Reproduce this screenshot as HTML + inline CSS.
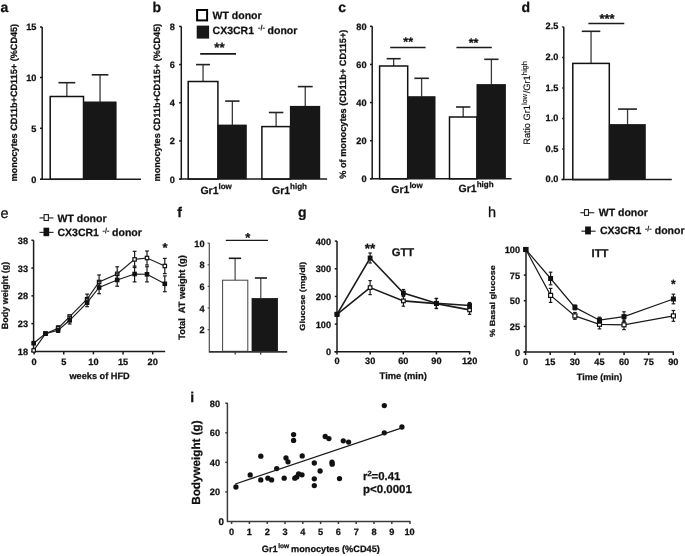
<!DOCTYPE html>
<html><head><meta charset="utf-8"><style>
html,body{margin:0;padding:0;background:#fff;}
body{width:685px;height:556px;overflow:hidden;}
svg{display:block;will-change:transform;font-family:"Liberation Sans", sans-serif;}
text{fill:#111;stroke:#111;stroke-width:0.25px;text-rendering:geometricPrecision;}
</style></head><body>
<svg width="685" height="556" viewBox="0 0 685 556" font-family="&apos;Liberation Sans&apos;, sans-serif">
<rect width="685" height="556" fill="#fff"/>
<text x="0.60" y="12.20" font-size="14" text-anchor="start" font-weight="bold" >a</text>
<line x1="42.20" y1="27.00" x2="42.20" y2="179.30" stroke="#1a1a1a" stroke-width="1.5"/>
<line x1="40.00" y1="179.30" x2="42.20" y2="179.30" stroke="#1a1a1a" stroke-width="1.5"/>
<text x="36.40" y="182.72" font-size="9.2" text-anchor="end" font-weight="bold" >0</text>
<line x1="40.00" y1="128.30" x2="42.20" y2="128.30" stroke="#1a1a1a" stroke-width="1.5"/>
<text x="36.40" y="131.72" font-size="9.2" text-anchor="end" font-weight="bold" >5</text>
<line x1="40.00" y1="77.50" x2="42.20" y2="77.50" stroke="#1a1a1a" stroke-width="1.5"/>
<text x="36.40" y="80.92" font-size="9.2" text-anchor="end" font-weight="bold" >10</text>
<line x1="40.00" y1="27.00" x2="42.20" y2="27.00" stroke="#1a1a1a" stroke-width="1.5"/>
<text x="36.40" y="30.42" font-size="9.2" text-anchor="end" font-weight="bold" >15</text>
<line x1="66.85" y1="96.50" x2="66.85" y2="82.70" stroke="#3a3a3a" stroke-width="1.3"/>
<line x1="58.45" y1="82.70" x2="75.25" y2="82.70" stroke="#222" stroke-width="1.6"/>
<rect x="50.20" y="96.50" width="33.30" height="82.80" fill="#fff" stroke="#111" stroke-width="1.5"/>
<line x1="100.05" y1="101.90" x2="100.05" y2="74.80" stroke="#3a3a3a" stroke-width="1.3"/>
<line x1="91.70" y1="74.80" x2="108.40" y2="74.80" stroke="#222" stroke-width="1.6"/>
<rect x="83.10" y="101.50" width="33.50" height="77.80" fill="#171717"/>
<line x1="40.50" y1="179.30" x2="141.00" y2="179.30" stroke="#1a1a1a" stroke-width="1.5"/>
<text x="0" y="0" font-size="9.15" text-anchor="middle" font-weight="bold" transform="translate(17.09,102.70) rotate(-90)" >monocytes CD11b+CD115+ (%CD45)</text>
<text x="152.40" y="12.00" font-size="14" text-anchor="start" font-weight="bold" >b</text>
<line x1="181.30" y1="26.40" x2="181.30" y2="179.10" stroke="#1a1a1a" stroke-width="1.5"/>
<line x1="179.10" y1="179.10" x2="181.30" y2="179.10" stroke="#1a1a1a" stroke-width="1.5"/>
<text x="174.80" y="182.52" font-size="9.2" text-anchor="end" font-weight="bold" >0</text>
<line x1="179.10" y1="140.93" x2="181.30" y2="140.93" stroke="#1a1a1a" stroke-width="1.5"/>
<text x="174.80" y="144.34" font-size="9.2" text-anchor="end" font-weight="bold" >2</text>
<line x1="179.10" y1="102.75" x2="181.30" y2="102.75" stroke="#1a1a1a" stroke-width="1.5"/>
<text x="174.80" y="106.17" font-size="9.2" text-anchor="end" font-weight="bold" >4</text>
<line x1="179.10" y1="64.58" x2="181.30" y2="64.58" stroke="#1a1a1a" stroke-width="1.5"/>
<text x="174.80" y="68.00" font-size="9.2" text-anchor="end" font-weight="bold" >6</text>
<line x1="179.10" y1="26.40" x2="181.30" y2="26.40" stroke="#1a1a1a" stroke-width="1.5"/>
<text x="174.80" y="29.82" font-size="9.2" text-anchor="end" font-weight="bold" >8</text>
<line x1="203.05" y1="81.50" x2="203.05" y2="64.60" stroke="#3a3a3a" stroke-width="1.3"/>
<line x1="196.05" y1="64.60" x2="210.05" y2="64.60" stroke="#222" stroke-width="1.6"/>
<rect x="188.20" y="81.50" width="29.70" height="97.60" fill="#fff" stroke="#111" stroke-width="1.5"/>
<line x1="232.35" y1="125.00" x2="232.35" y2="101.10" stroke="#3a3a3a" stroke-width="1.3"/>
<line x1="225.15" y1="101.10" x2="239.55" y2="101.10" stroke="#222" stroke-width="1.6"/>
<rect x="217.50" y="124.60" width="29.30" height="54.50" fill="#171717"/>
<line x1="276.10" y1="126.60" x2="276.10" y2="112.50" stroke="#3a3a3a" stroke-width="1.3"/>
<line x1="268.85" y1="112.50" x2="283.35" y2="112.50" stroke="#222" stroke-width="1.6"/>
<rect x="261.90" y="126.60" width="28.40" height="52.50" fill="#fff" stroke="#111" stroke-width="1.5"/>
<line x1="305.25" y1="106.30" x2="305.25" y2="86.60" stroke="#3a3a3a" stroke-width="1.3"/>
<line x1="297.80" y1="86.60" x2="312.70" y2="86.60" stroke="#222" stroke-width="1.6"/>
<rect x="289.90" y="105.90" width="30.30" height="73.20" fill="#171717"/>
<line x1="179.50" y1="179.10" x2="327.10" y2="179.10" stroke="#1a1a1a" stroke-width="1.5"/>
<line x1="200.20" y1="53.90" x2="236.00" y2="53.90" stroke="#1a1a1a" stroke-width="1.7"/>
<text x="219.40" y="52.20" font-size="13.3" text-anchor="middle" font-weight="bold" >**</text>
<rect x="197.10" y="10.00" width="10.00" height="10.40" fill="#fff" stroke="#000" stroke-width="2"/>
<rect x="196.70" y="25.60" width="12.40" height="13.00" fill="#171717" stroke="#000" stroke-width="0"/>
<text x="212.60" y="19.00" font-size="10.5" text-anchor="start" font-weight="bold" >WT donor</text>
<text x="212.60" y="33.80" font-size="10.5" text-anchor="start" font-weight="bold" >CX3CR1</text>
<text x="258.00" y="30.40" font-size="7.2" text-anchor="start" font-weight="bold" style="stroke-width:0.15px">-/-</text>
<text x="267.60" y="33.80" font-size="10.5" text-anchor="start" font-weight="bold" >donor</text>
<text x="200.40" y="193.60" font-size="10.5" text-anchor="start" font-weight="bold" >Gr1<tspan font-size="8" dy="-5">low</tspan></text>
<text x="272.00" y="193.60" font-size="10.5" text-anchor="start" font-weight="bold" >Gr1<tspan font-size="8" dy="-5">high</tspan></text>
<text x="0" y="0" font-size="9.15" text-anchor="middle" font-weight="bold" transform="translate(159.79,102.60) rotate(-90)" >monocytes CD11b+CD115+ (%CD45)</text>
<text x="338.30" y="12.10" font-size="14" text-anchor="start" font-weight="bold" >c</text>
<line x1="372.20" y1="26.30" x2="372.20" y2="178.80" stroke="#1a1a1a" stroke-width="1.5"/>
<line x1="370.00" y1="178.80" x2="372.20" y2="178.80" stroke="#1a1a1a" stroke-width="1.5"/>
<text x="366.50" y="182.22" font-size="9.2" text-anchor="end" font-weight="bold" >0</text>
<line x1="370.00" y1="140.68" x2="372.20" y2="140.68" stroke="#1a1a1a" stroke-width="1.5"/>
<text x="366.50" y="144.09" font-size="9.2" text-anchor="end" font-weight="bold" >20</text>
<line x1="370.00" y1="102.55" x2="372.20" y2="102.55" stroke="#1a1a1a" stroke-width="1.5"/>
<text x="366.50" y="105.97" font-size="9.2" text-anchor="end" font-weight="bold" >40</text>
<line x1="370.00" y1="64.43" x2="372.20" y2="64.43" stroke="#1a1a1a" stroke-width="1.5"/>
<text x="366.50" y="67.85" font-size="9.2" text-anchor="end" font-weight="bold" >60</text>
<line x1="370.00" y1="26.30" x2="372.20" y2="26.30" stroke="#1a1a1a" stroke-width="1.5"/>
<text x="366.50" y="29.72" font-size="9.2" text-anchor="end" font-weight="bold" >80</text>
<line x1="393.65" y1="66.00" x2="393.65" y2="58.70" stroke="#3a3a3a" stroke-width="1.3"/>
<line x1="386.65" y1="58.70" x2="400.65" y2="58.70" stroke="#222" stroke-width="1.6"/>
<rect x="379.60" y="66.00" width="28.10" height="112.80" fill="#fff" stroke="#111" stroke-width="1.5"/>
<line x1="421.60" y1="96.60" x2="421.60" y2="78.30" stroke="#3a3a3a" stroke-width="1.3"/>
<line x1="414.35" y1="78.30" x2="428.85" y2="78.30" stroke="#222" stroke-width="1.6"/>
<rect x="407.30" y="96.20" width="28.20" height="82.60" fill="#171717"/>
<line x1="463.20" y1="117.00" x2="463.20" y2="107.00" stroke="#3a3a3a" stroke-width="1.3"/>
<line x1="456.05" y1="107.00" x2="470.35" y2="107.00" stroke="#222" stroke-width="1.6"/>
<rect x="449.50" y="117.00" width="27.40" height="61.80" fill="#fff" stroke="#111" stroke-width="1.5"/>
<line x1="491.40" y1="84.50" x2="491.40" y2="59.30" stroke="#3a3a3a" stroke-width="1.3"/>
<line x1="484.25" y1="59.30" x2="498.55" y2="59.30" stroke="#222" stroke-width="1.6"/>
<rect x="476.50" y="84.10" width="29.40" height="94.70" fill="#171717"/>
<line x1="370.50" y1="178.80" x2="511.60" y2="178.80" stroke="#1a1a1a" stroke-width="1.5"/>
<line x1="390.20" y1="47.50" x2="425.60" y2="47.50" stroke="#1a1a1a" stroke-width="1.5"/>
<line x1="456.40" y1="47.50" x2="491.80" y2="47.50" stroke="#1a1a1a" stroke-width="1.5"/>
<text x="408.20" y="46.00" font-size="12.5" text-anchor="middle" font-weight="bold" >**</text>
<text x="473.60" y="46.90" font-size="12.5" text-anchor="middle" font-weight="bold" >**</text>
<text x="391.30" y="192.50" font-size="10.5" text-anchor="start" font-weight="bold" >Gr1<tspan font-size="8" dy="-5">low</tspan></text>
<text x="458.60" y="192.30" font-size="10.5" text-anchor="start" font-weight="bold" >Gr1<tspan font-size="8" dy="-5">high</tspan></text>
<text x="0" y="0" font-size="9.2" text-anchor="middle" font-weight="bold" transform="translate(346.11,104.20) rotate(-90)" >% of monocytes (CD11b+ CD115+)</text>
<text x="521.40" y="12.00" font-size="14" text-anchor="start" font-weight="bold" >d</text>
<line x1="563.80" y1="26.90" x2="563.80" y2="179.60" stroke="#1a1a1a" stroke-width="1.5"/>
<line x1="562.20" y1="179.60" x2="563.80" y2="179.60" stroke="#1a1a1a" stroke-width="1.5"/>
<text x="558.30" y="182.19" font-size="9.2" text-anchor="end" font-weight="bold" >0.0</text>
<line x1="562.20" y1="149.06" x2="563.80" y2="149.06" stroke="#1a1a1a" stroke-width="1.5"/>
<text x="558.30" y="151.65" font-size="9.2" text-anchor="end" font-weight="bold" >0.5</text>
<line x1="562.20" y1="118.52" x2="563.80" y2="118.52" stroke="#1a1a1a" stroke-width="1.5"/>
<text x="558.30" y="121.11" font-size="9.2" text-anchor="end" font-weight="bold" >1.0</text>
<line x1="562.20" y1="87.98" x2="563.80" y2="87.98" stroke="#1a1a1a" stroke-width="1.5"/>
<text x="558.30" y="90.57" font-size="9.2" text-anchor="end" font-weight="bold" >1.5</text>
<line x1="562.20" y1="57.44" x2="563.80" y2="57.44" stroke="#1a1a1a" stroke-width="1.5"/>
<text x="558.30" y="60.03" font-size="9.2" text-anchor="end" font-weight="bold" >2.0</text>
<line x1="562.20" y1="26.90" x2="563.80" y2="26.90" stroke="#1a1a1a" stroke-width="1.5"/>
<text x="558.30" y="29.49" font-size="9.2" text-anchor="end" font-weight="bold" >2.5</text>
<line x1="591.05" y1="63.40" x2="591.05" y2="31.30" stroke="#3a3a3a" stroke-width="1.3"/>
<line x1="581.80" y1="31.30" x2="600.30" y2="31.30" stroke="#222" stroke-width="1.6"/>
<rect x="572.80" y="63.40" width="36.50" height="116.20" fill="#fff" stroke="#111" stroke-width="1.5"/>
<line x1="627.55" y1="124.50" x2="627.55" y2="109.10" stroke="#3a3a3a" stroke-width="1.3"/>
<line x1="618.10" y1="109.10" x2="637.00" y2="109.10" stroke="#222" stroke-width="1.6"/>
<rect x="608.90" y="124.10" width="36.90" height="55.50" fill="#171717"/>
<line x1="561.50" y1="179.60" x2="671.80" y2="179.60" stroke="#1a1a1a" stroke-width="1.5"/>
<line x1="588.40" y1="23.40" x2="624.30" y2="23.40" stroke="#1a1a1a" stroke-width="1.5"/>
<text x="607.10" y="23.40" font-size="13" text-anchor="middle" font-weight="bold" >***</text>
<text x="0" y="0" font-size="9.3" font-weight="normal" transform="translate(530.2,144.8) rotate(-90)" style="stroke-width:0.15px">Ratio Gr1<tspan font-size="7.4" dy="-3.4">low</tspan><tspan dy="3.4" dx="0.6">/Gr1</tspan><tspan font-size="7.4" dy="-3.4">high</tspan></text>
<text x="0.60" y="217.90" font-size="14.5" text-anchor="start" font-weight="normal" >e</text>
<line x1="33.60" y1="240.30" x2="33.60" y2="351.40" stroke="#1a1a1a" stroke-width="1.5"/>
<line x1="31.40" y1="351.40" x2="33.60" y2="351.40" stroke="#1a1a1a" stroke-width="1.5"/>
<text x="28.00" y="354.82" font-size="9.2" text-anchor="end" font-weight="bold" >18</text>
<line x1="31.40" y1="323.62" x2="33.60" y2="323.62" stroke="#1a1a1a" stroke-width="1.5"/>
<text x="28.00" y="327.05" font-size="9.2" text-anchor="end" font-weight="bold" >23</text>
<line x1="31.40" y1="295.85" x2="33.60" y2="295.85" stroke="#1a1a1a" stroke-width="1.5"/>
<text x="28.00" y="299.27" font-size="9.2" text-anchor="end" font-weight="bold" >28</text>
<line x1="31.40" y1="268.07" x2="33.60" y2="268.07" stroke="#1a1a1a" stroke-width="1.5"/>
<text x="28.00" y="271.50" font-size="9.2" text-anchor="end" font-weight="bold" >33</text>
<line x1="31.40" y1="240.30" x2="33.60" y2="240.30" stroke="#1a1a1a" stroke-width="1.5"/>
<text x="28.00" y="243.72" font-size="9.2" text-anchor="end" font-weight="bold" >38</text>
<line x1="33.60" y1="351.40" x2="165.20" y2="351.40" stroke="#1a1a1a" stroke-width="1.5"/>
<line x1="34.10" y1="351.40" x2="34.10" y2="354.40" stroke="#1a1a1a" stroke-width="1.5"/>
<text x="34.10" y="365.30" font-size="9.2" text-anchor="middle" font-weight="bold" >0</text>
<line x1="63.75" y1="351.40" x2="63.75" y2="354.40" stroke="#1a1a1a" stroke-width="1.5"/>
<text x="63.75" y="365.30" font-size="9.2" text-anchor="middle" font-weight="bold" >5</text>
<line x1="93.40" y1="351.40" x2="93.40" y2="354.40" stroke="#1a1a1a" stroke-width="1.5"/>
<text x="93.40" y="365.30" font-size="9.2" text-anchor="middle" font-weight="bold" >10</text>
<line x1="123.05" y1="351.40" x2="123.05" y2="354.40" stroke="#1a1a1a" stroke-width="1.5"/>
<text x="123.05" y="365.30" font-size="9.2" text-anchor="middle" font-weight="bold" >15</text>
<line x1="152.70" y1="351.40" x2="152.70" y2="354.40" stroke="#1a1a1a" stroke-width="1.5"/>
<text x="152.70" y="365.30" font-size="9.2" text-anchor="middle" font-weight="bold" >20</text>
<polyline points="33.70,350.40 45.50,333.60 58.10,328.20 69.70,316.70 87.10,299.20 99.10,282.00 117.20,273.90 134.60,259.40 147.00,258.00 164.80,266.00" fill="none" stroke="#1a1a1a" stroke-width="1.15"/>
<line x1="33.70" y1="349.60" x2="33.70" y2="351.20" stroke="#1a1a1a" stroke-width="1.2"/>
<line x1="31.80" y1="349.60" x2="35.60" y2="349.60" stroke="#1a1a1a" stroke-width="1.2"/>
<line x1="31.80" y1="351.20" x2="35.60" y2="351.20" stroke="#1a1a1a" stroke-width="1.2"/>
<line x1="45.50" y1="332.40" x2="45.50" y2="334.80" stroke="#1a1a1a" stroke-width="1.2"/>
<line x1="43.60" y1="332.40" x2="47.40" y2="332.40" stroke="#1a1a1a" stroke-width="1.2"/>
<line x1="43.60" y1="334.80" x2="47.40" y2="334.80" stroke="#1a1a1a" stroke-width="1.2"/>
<line x1="58.10" y1="325.80" x2="58.10" y2="330.60" stroke="#1a1a1a" stroke-width="1.2"/>
<line x1="56.20" y1="325.80" x2="60.00" y2="325.80" stroke="#1a1a1a" stroke-width="1.2"/>
<line x1="56.20" y1="330.60" x2="60.00" y2="330.60" stroke="#1a1a1a" stroke-width="1.2"/>
<line x1="69.70" y1="314.90" x2="69.70" y2="318.50" stroke="#1a1a1a" stroke-width="1.2"/>
<line x1="67.80" y1="314.90" x2="71.60" y2="314.90" stroke="#1a1a1a" stroke-width="1.2"/>
<line x1="67.80" y1="318.50" x2="71.60" y2="318.50" stroke="#1a1a1a" stroke-width="1.2"/>
<line x1="87.10" y1="294.10" x2="87.10" y2="304.30" stroke="#1a1a1a" stroke-width="1.2"/>
<line x1="85.20" y1="294.10" x2="89.00" y2="294.10" stroke="#1a1a1a" stroke-width="1.2"/>
<line x1="85.20" y1="304.30" x2="89.00" y2="304.30" stroke="#1a1a1a" stroke-width="1.2"/>
<line x1="99.10" y1="275.00" x2="99.10" y2="289.00" stroke="#1a1a1a" stroke-width="1.2"/>
<line x1="97.20" y1="275.00" x2="101.00" y2="275.00" stroke="#1a1a1a" stroke-width="1.2"/>
<line x1="97.20" y1="289.00" x2="101.00" y2="289.00" stroke="#1a1a1a" stroke-width="1.2"/>
<line x1="117.20" y1="266.80" x2="117.20" y2="281.00" stroke="#1a1a1a" stroke-width="1.2"/>
<line x1="115.30" y1="266.80" x2="119.10" y2="266.80" stroke="#1a1a1a" stroke-width="1.2"/>
<line x1="115.30" y1="281.00" x2="119.10" y2="281.00" stroke="#1a1a1a" stroke-width="1.2"/>
<line x1="134.60" y1="251.30" x2="134.60" y2="267.50" stroke="#1a1a1a" stroke-width="1.2"/>
<line x1="132.70" y1="251.30" x2="136.50" y2="251.30" stroke="#1a1a1a" stroke-width="1.2"/>
<line x1="132.70" y1="267.50" x2="136.50" y2="267.50" stroke="#1a1a1a" stroke-width="1.2"/>
<line x1="147.00" y1="251.00" x2="147.00" y2="265.00" stroke="#1a1a1a" stroke-width="1.2"/>
<line x1="145.10" y1="251.00" x2="148.90" y2="251.00" stroke="#1a1a1a" stroke-width="1.2"/>
<line x1="145.10" y1="265.00" x2="148.90" y2="265.00" stroke="#1a1a1a" stroke-width="1.2"/>
<line x1="164.80" y1="258.40" x2="164.80" y2="273.60" stroke="#1a1a1a" stroke-width="1.2"/>
<line x1="162.90" y1="258.40" x2="166.70" y2="258.40" stroke="#1a1a1a" stroke-width="1.2"/>
<line x1="162.90" y1="273.60" x2="166.70" y2="273.60" stroke="#1a1a1a" stroke-width="1.2"/>
<rect x="32.00" y="348.70" width="3.3999999999999995" height="3.3999999999999995" fill="#fff" stroke="#111" stroke-width="1.2"/>
<rect x="43.80" y="331.90" width="3.3999999999999995" height="3.3999999999999995" fill="#fff" stroke="#111" stroke-width="1.2"/>
<rect x="56.40" y="326.50" width="3.3999999999999995" height="3.3999999999999995" fill="#fff" stroke="#111" stroke-width="1.2"/>
<rect x="68.00" y="315.00" width="3.3999999999999995" height="3.3999999999999995" fill="#fff" stroke="#111" stroke-width="1.2"/>
<rect x="85.40" y="297.50" width="3.3999999999999995" height="3.3999999999999995" fill="#fff" stroke="#111" stroke-width="1.2"/>
<rect x="97.40" y="280.30" width="3.3999999999999995" height="3.3999999999999995" fill="#fff" stroke="#111" stroke-width="1.2"/>
<rect x="115.50" y="272.20" width="3.3999999999999995" height="3.3999999999999995" fill="#fff" stroke="#111" stroke-width="1.2"/>
<rect x="132.90" y="257.70" width="3.3999999999999995" height="3.3999999999999995" fill="#fff" stroke="#111" stroke-width="1.2"/>
<rect x="145.30" y="256.30" width="3.3999999999999995" height="3.3999999999999995" fill="#fff" stroke="#111" stroke-width="1.2"/>
<rect x="163.10" y="264.30" width="3.3999999999999995" height="3.3999999999999995" fill="#fff" stroke="#111" stroke-width="1.2"/>
<polyline points="33.70,343.20 45.50,333.60 58.10,330.30 69.70,320.30 87.10,302.60 99.10,287.50 117.20,280.00 134.60,274.00 147.00,274.30 164.80,283.80" fill="none" stroke="#1a1a1a" stroke-width="1.15"/>
<line x1="33.70" y1="342.40" x2="33.70" y2="344.00" stroke="#1a1a1a" stroke-width="1.2"/>
<line x1="31.80" y1="342.40" x2="35.60" y2="342.40" stroke="#1a1a1a" stroke-width="1.2"/>
<line x1="31.80" y1="344.00" x2="35.60" y2="344.00" stroke="#1a1a1a" stroke-width="1.2"/>
<line x1="45.50" y1="332.40" x2="45.50" y2="334.80" stroke="#1a1a1a" stroke-width="1.2"/>
<line x1="43.60" y1="332.40" x2="47.40" y2="332.40" stroke="#1a1a1a" stroke-width="1.2"/>
<line x1="43.60" y1="334.80" x2="47.40" y2="334.80" stroke="#1a1a1a" stroke-width="1.2"/>
<line x1="58.10" y1="328.20" x2="58.10" y2="332.40" stroke="#1a1a1a" stroke-width="1.2"/>
<line x1="56.20" y1="328.20" x2="60.00" y2="328.20" stroke="#1a1a1a" stroke-width="1.2"/>
<line x1="56.20" y1="332.40" x2="60.00" y2="332.40" stroke="#1a1a1a" stroke-width="1.2"/>
<line x1="69.70" y1="316.60" x2="69.70" y2="324.00" stroke="#1a1a1a" stroke-width="1.2"/>
<line x1="67.80" y1="316.60" x2="71.60" y2="316.60" stroke="#1a1a1a" stroke-width="1.2"/>
<line x1="67.80" y1="324.00" x2="71.60" y2="324.00" stroke="#1a1a1a" stroke-width="1.2"/>
<line x1="87.10" y1="298.50" x2="87.10" y2="306.70" stroke="#1a1a1a" stroke-width="1.2"/>
<line x1="85.20" y1="298.50" x2="89.00" y2="298.50" stroke="#1a1a1a" stroke-width="1.2"/>
<line x1="85.20" y1="306.70" x2="89.00" y2="306.70" stroke="#1a1a1a" stroke-width="1.2"/>
<line x1="99.10" y1="281.30" x2="99.10" y2="293.70" stroke="#1a1a1a" stroke-width="1.2"/>
<line x1="97.20" y1="281.30" x2="101.00" y2="281.30" stroke="#1a1a1a" stroke-width="1.2"/>
<line x1="97.20" y1="293.70" x2="101.00" y2="293.70" stroke="#1a1a1a" stroke-width="1.2"/>
<line x1="117.20" y1="273.80" x2="117.20" y2="286.20" stroke="#1a1a1a" stroke-width="1.2"/>
<line x1="115.30" y1="273.80" x2="119.10" y2="273.80" stroke="#1a1a1a" stroke-width="1.2"/>
<line x1="115.30" y1="286.20" x2="119.10" y2="286.20" stroke="#1a1a1a" stroke-width="1.2"/>
<line x1="134.60" y1="266.10" x2="134.60" y2="281.90" stroke="#1a1a1a" stroke-width="1.2"/>
<line x1="132.70" y1="266.10" x2="136.50" y2="266.10" stroke="#1a1a1a" stroke-width="1.2"/>
<line x1="132.70" y1="281.90" x2="136.50" y2="281.90" stroke="#1a1a1a" stroke-width="1.2"/>
<line x1="147.00" y1="266.70" x2="147.00" y2="281.90" stroke="#1a1a1a" stroke-width="1.2"/>
<line x1="145.10" y1="266.70" x2="148.90" y2="266.70" stroke="#1a1a1a" stroke-width="1.2"/>
<line x1="145.10" y1="281.90" x2="148.90" y2="281.90" stroke="#1a1a1a" stroke-width="1.2"/>
<line x1="164.80" y1="275.90" x2="164.80" y2="291.70" stroke="#1a1a1a" stroke-width="1.2"/>
<line x1="162.90" y1="275.90" x2="166.70" y2="275.90" stroke="#1a1a1a" stroke-width="1.2"/>
<line x1="162.90" y1="291.70" x2="166.70" y2="291.70" stroke="#1a1a1a" stroke-width="1.2"/>
<rect x="31.40" y="340.90" width="4.6" height="4.6" fill="#111"/>
<rect x="43.20" y="331.30" width="4.6" height="4.6" fill="#111"/>
<rect x="55.80" y="328.00" width="4.6" height="4.6" fill="#111"/>
<rect x="67.40" y="318.00" width="4.6" height="4.6" fill="#111"/>
<rect x="84.80" y="300.30" width="4.6" height="4.6" fill="#111"/>
<rect x="96.80" y="285.20" width="4.6" height="4.6" fill="#111"/>
<rect x="114.90" y="277.70" width="4.6" height="4.6" fill="#111"/>
<rect x="132.30" y="271.70" width="4.6" height="4.6" fill="#111"/>
<rect x="144.70" y="272.00" width="4.6" height="4.6" fill="#111"/>
<rect x="162.50" y="281.50" width="4.6" height="4.6" fill="#111"/>
<text x="165.10" y="252.20" font-size="13" text-anchor="middle" font-weight="bold" >*</text>
<line x1="39.50" y1="217.90" x2="53.50" y2="217.90" stroke="#333" stroke-width="1.2"/>
<rect x="44.1" y="214.6" width="4.3" height="5.9" fill="#fff" stroke="#222" stroke-width="1.1"/>
<text x="57.50" y="222.00" font-size="10.5" text-anchor="start" font-weight="bold" >WT donor</text>
<line x1="39.50" y1="232.40" x2="53.50" y2="232.40" stroke="#333" stroke-width="1.2"/>
<rect x="43.5" y="227.7" width="5.7" height="8.5" fill="#111"/>
<text x="57.50" y="236.40" font-size="10.5" text-anchor="start" font-weight="bold" >CX3CR1</text>
<text x="102.60" y="233.00" font-size="7.2" text-anchor="start" font-weight="bold" style="stroke-width:0.15px">-/-</text>
<text x="112.10" y="236.40" font-size="10.5" text-anchor="start" font-weight="bold" >donor</text>
<text x="99.60" y="379.00" font-size="9.2" text-anchor="middle" font-weight="bold" >weeks of HFD</text>
<text x="0" y="0" font-size="9.0" text-anchor="middle" font-weight="bold" transform="translate(8.04,295.40) rotate(-90)" >Body weight (g)</text>
<text x="177.30" y="217.00" font-size="14" text-anchor="start" font-weight="bold" >f</text>
<line x1="209.30" y1="243.10" x2="209.30" y2="351.30" stroke="#505050" stroke-width="1.2"/>
<line x1="207.60" y1="329.66" x2="209.30" y2="329.66" stroke="#505050" stroke-width="1.2"/>
<text x="204.60" y="333.36" font-size="9.2" text-anchor="end" font-weight="bold" >2</text>
<line x1="207.60" y1="308.02" x2="209.30" y2="308.02" stroke="#505050" stroke-width="1.2"/>
<text x="204.60" y="311.72" font-size="9.2" text-anchor="end" font-weight="bold" >4</text>
<line x1="207.60" y1="286.38" x2="209.30" y2="286.38" stroke="#505050" stroke-width="1.2"/>
<text x="204.60" y="290.08" font-size="9.2" text-anchor="end" font-weight="bold" >6</text>
<line x1="207.60" y1="264.74" x2="209.30" y2="264.74" stroke="#505050" stroke-width="1.2"/>
<text x="204.60" y="268.44" font-size="9.2" text-anchor="end" font-weight="bold" >8</text>
<line x1="207.60" y1="243.10" x2="209.30" y2="243.10" stroke="#505050" stroke-width="1.2"/>
<text x="204.60" y="246.80" font-size="9.2" text-anchor="end" font-weight="bold" >10</text>
<rect x="222.60" y="280.20" width="25.20" height="71.10" fill="#fff" stroke="#444" stroke-width="1.0"/>
<rect x="252.00" y="298.50" width="25.60" height="52.80" fill="#171717" stroke="#171717" stroke-width="0.8"/>
<line x1="208.80" y1="351.90" x2="287.20" y2="351.90" stroke="#333" stroke-width="1.9"/>
<line x1="235.20" y1="351.90" x2="235.20" y2="354.60" stroke="#333" stroke-width="1.2"/>
<line x1="260.70" y1="351.90" x2="260.70" y2="354.60" stroke="#333" stroke-width="1.2"/>
<line x1="235.10" y1="280.20" x2="235.10" y2="258.30" stroke="#333" stroke-width="1.1"/>
<line x1="228.80" y1="258.30" x2="241.10" y2="258.30" stroke="#1a1a1a" stroke-width="1.6"/>
<line x1="260.80" y1="298.50" x2="260.80" y2="278.00" stroke="#333" stroke-width="1.1"/>
<line x1="254.90" y1="278.00" x2="267.00" y2="278.00" stroke="#1a1a1a" stroke-width="1.6"/>
<line x1="225.80" y1="240.40" x2="268.00" y2="240.40" stroke="#1a1a1a" stroke-width="1.1"/>
<text x="247.80" y="242.00" font-size="13" text-anchor="middle" font-weight="bold" >*</text>
<text x="0" y="0" font-size="9.3" text-anchor="middle" font-weight="bold" transform="translate(185.15,297.40) rotate(-90)" >Total&#160; AT weight (g)</text>
<text x="297.90" y="216.90" font-size="14" text-anchor="start" font-weight="bold" >g</text>
<line x1="337.00" y1="241.10" x2="337.00" y2="351.80" stroke="#1a1a1a" stroke-width="1.5"/>
<line x1="334.80" y1="351.80" x2="337.00" y2="351.80" stroke="#1a1a1a" stroke-width="1.5"/>
<text x="331.00" y="355.22" font-size="9.2" text-anchor="end" font-weight="bold" >0</text>
<line x1="334.80" y1="324.12" x2="337.00" y2="324.12" stroke="#1a1a1a" stroke-width="1.5"/>
<text x="331.00" y="327.55" font-size="9.2" text-anchor="end" font-weight="bold" >100</text>
<line x1="334.80" y1="296.45" x2="337.00" y2="296.45" stroke="#1a1a1a" stroke-width="1.5"/>
<text x="331.00" y="299.87" font-size="9.2" text-anchor="end" font-weight="bold" >200</text>
<line x1="334.80" y1="268.77" x2="337.00" y2="268.77" stroke="#1a1a1a" stroke-width="1.5"/>
<text x="331.00" y="272.19" font-size="9.2" text-anchor="end" font-weight="bold" >300</text>
<line x1="334.80" y1="241.10" x2="337.00" y2="241.10" stroke="#1a1a1a" stroke-width="1.5"/>
<text x="331.00" y="244.52" font-size="9.2" text-anchor="end" font-weight="bold" >400</text>
<line x1="334.50" y1="351.80" x2="470.30" y2="351.80" stroke="#1a1a1a" stroke-width="1.5"/>
<line x1="337.00" y1="351.80" x2="337.00" y2="354.40" stroke="#1a1a1a" stroke-width="1.5"/>
<text x="337.00" y="363.50" font-size="9.2" text-anchor="middle" font-weight="bold" >0</text>
<line x1="370.15" y1="351.80" x2="370.15" y2="354.40" stroke="#1a1a1a" stroke-width="1.5"/>
<text x="370.15" y="363.50" font-size="9.2" text-anchor="middle" font-weight="bold" >30</text>
<line x1="403.30" y1="351.80" x2="403.30" y2="354.40" stroke="#1a1a1a" stroke-width="1.5"/>
<text x="403.30" y="363.50" font-size="9.2" text-anchor="middle" font-weight="bold" >60</text>
<line x1="436.45" y1="351.80" x2="436.45" y2="354.40" stroke="#1a1a1a" stroke-width="1.5"/>
<text x="436.45" y="363.50" font-size="9.2" text-anchor="middle" font-weight="bold" >90</text>
<line x1="469.60" y1="351.80" x2="469.60" y2="354.40" stroke="#1a1a1a" stroke-width="1.5"/>
<text x="469.60" y="363.50" font-size="9.2" text-anchor="middle" font-weight="bold" >120</text>
<polyline points="337.00,314.30 370.10,287.60 403.40,300.90 436.40,303.60 469.60,309.90" fill="none" stroke="#1a1a1a" stroke-width="1.6"/>
<line x1="337.00" y1="312.80" x2="337.00" y2="315.80" stroke="#1a1a1a" stroke-width="1.2"/>
<line x1="335.30" y1="312.80" x2="338.70" y2="312.80" stroke="#1a1a1a" stroke-width="1.2"/>
<line x1="335.30" y1="315.80" x2="338.70" y2="315.80" stroke="#1a1a1a" stroke-width="1.2"/>
<line x1="370.10" y1="280.60" x2="370.10" y2="294.60" stroke="#1a1a1a" stroke-width="1.2"/>
<line x1="368.40" y1="280.60" x2="371.80" y2="280.60" stroke="#1a1a1a" stroke-width="1.2"/>
<line x1="368.40" y1="294.60" x2="371.80" y2="294.60" stroke="#1a1a1a" stroke-width="1.2"/>
<line x1="403.40" y1="295.60" x2="403.40" y2="306.20" stroke="#1a1a1a" stroke-width="1.2"/>
<line x1="401.70" y1="295.60" x2="405.10" y2="295.60" stroke="#1a1a1a" stroke-width="1.2"/>
<line x1="401.70" y1="306.20" x2="405.10" y2="306.20" stroke="#1a1a1a" stroke-width="1.2"/>
<line x1="436.40" y1="298.60" x2="436.40" y2="308.60" stroke="#1a1a1a" stroke-width="1.2"/>
<line x1="434.70" y1="298.60" x2="438.10" y2="298.60" stroke="#1a1a1a" stroke-width="1.2"/>
<line x1="434.70" y1="308.60" x2="438.10" y2="308.60" stroke="#1a1a1a" stroke-width="1.2"/>
<line x1="469.60" y1="305.50" x2="469.60" y2="314.30" stroke="#1a1a1a" stroke-width="1.2"/>
<line x1="467.90" y1="305.50" x2="471.30" y2="305.50" stroke="#1a1a1a" stroke-width="1.2"/>
<line x1="467.90" y1="314.30" x2="471.30" y2="314.30" stroke="#1a1a1a" stroke-width="1.2"/>
<rect x="335.20" y="312.50" width="3.5999999999999996" height="3.5999999999999996" fill="#fff" stroke="#111" stroke-width="1.2"/>
<rect x="368.30" y="285.80" width="3.5999999999999996" height="3.5999999999999996" fill="#fff" stroke="#111" stroke-width="1.2"/>
<rect x="401.60" y="299.10" width="3.5999999999999996" height="3.5999999999999996" fill="#fff" stroke="#111" stroke-width="1.2"/>
<rect x="434.60" y="301.80" width="3.5999999999999996" height="3.5999999999999996" fill="#fff" stroke="#111" stroke-width="1.2"/>
<rect x="467.80" y="308.10" width="3.5999999999999996" height="3.5999999999999996" fill="#fff" stroke="#111" stroke-width="1.2"/>
<polyline points="337.00,314.30 370.10,258.00 403.40,293.00 436.40,303.30 469.60,305.50" fill="none" stroke="#1a1a1a" stroke-width="1.6"/>
<line x1="337.00" y1="312.80" x2="337.00" y2="315.80" stroke="#1a1a1a" stroke-width="1.2"/>
<line x1="335.30" y1="312.80" x2="338.70" y2="312.80" stroke="#1a1a1a" stroke-width="1.2"/>
<line x1="335.30" y1="315.80" x2="338.70" y2="315.80" stroke="#1a1a1a" stroke-width="1.2"/>
<line x1="370.10" y1="253.00" x2="370.10" y2="263.00" stroke="#1a1a1a" stroke-width="1.2"/>
<line x1="368.40" y1="253.00" x2="371.80" y2="253.00" stroke="#1a1a1a" stroke-width="1.2"/>
<line x1="368.40" y1="263.00" x2="371.80" y2="263.00" stroke="#1a1a1a" stroke-width="1.2"/>
<line x1="403.40" y1="289.50" x2="403.40" y2="296.50" stroke="#1a1a1a" stroke-width="1.2"/>
<line x1="401.70" y1="289.50" x2="405.10" y2="289.50" stroke="#1a1a1a" stroke-width="1.2"/>
<line x1="401.70" y1="296.50" x2="405.10" y2="296.50" stroke="#1a1a1a" stroke-width="1.2"/>
<line x1="436.40" y1="298.30" x2="436.40" y2="308.30" stroke="#1a1a1a" stroke-width="1.2"/>
<line x1="434.70" y1="298.30" x2="438.10" y2="298.30" stroke="#1a1a1a" stroke-width="1.2"/>
<line x1="434.70" y1="308.30" x2="438.10" y2="308.30" stroke="#1a1a1a" stroke-width="1.2"/>
<line x1="469.60" y1="302.50" x2="469.60" y2="308.50" stroke="#1a1a1a" stroke-width="1.2"/>
<line x1="467.90" y1="302.50" x2="471.30" y2="302.50" stroke="#1a1a1a" stroke-width="1.2"/>
<line x1="467.90" y1="308.50" x2="471.30" y2="308.50" stroke="#1a1a1a" stroke-width="1.2"/>
<rect x="334.60" y="311.90" width="4.8" height="4.8" fill="#111"/>
<rect x="367.70" y="255.60" width="4.8" height="4.8" fill="#111"/>
<rect x="401.00" y="290.60" width="4.8" height="4.8" fill="#111"/>
<rect x="434.00" y="300.90" width="4.8" height="4.8" fill="#111"/>
<rect x="467.20" y="303.10" width="4.8" height="4.8" fill="#111"/>
<text x="370.10" y="252.60" font-size="13.5" text-anchor="middle" font-weight="bold" >**</text>
<text x="391.80" y="255.80" font-size="11.2" text-anchor="start" font-weight="bold" >GTT</text>
<text x="403.20" y="379.20" font-size="9.4" text-anchor="middle" font-weight="bold" >Time (min)</text>
<text x="0" y="0" font-size="9.15" text-anchor="middle" font-weight="bold" transform="translate(304.90,296.20) rotate(-90) scale(1,0.82)" >Glucose (mg/dl)</text>
<text x="488.00" y="217.00" font-size="14.5" text-anchor="start" font-weight="normal" >h</text>
<line x1="526.00" y1="249.40" x2="526.00" y2="352.10" stroke="#1a1a1a" stroke-width="1.5"/>
<line x1="523.80" y1="352.10" x2="526.00" y2="352.10" stroke="#1a1a1a" stroke-width="1.5"/>
<text x="520.00" y="355.52" font-size="9.2" text-anchor="end" font-weight="bold" >0</text>
<line x1="523.80" y1="326.43" x2="526.00" y2="326.43" stroke="#1a1a1a" stroke-width="1.5"/>
<text x="520.00" y="329.85" font-size="9.2" text-anchor="end" font-weight="bold" >25</text>
<line x1="523.80" y1="300.75" x2="526.00" y2="300.75" stroke="#1a1a1a" stroke-width="1.5"/>
<text x="520.00" y="304.17" font-size="9.2" text-anchor="end" font-weight="bold" >50</text>
<line x1="523.80" y1="275.08" x2="526.00" y2="275.08" stroke="#1a1a1a" stroke-width="1.5"/>
<text x="520.00" y="278.50" font-size="9.2" text-anchor="end" font-weight="bold" >75</text>
<line x1="523.80" y1="249.40" x2="526.00" y2="249.40" stroke="#1a1a1a" stroke-width="1.5"/>
<text x="520.00" y="252.82" font-size="9.2" text-anchor="end" font-weight="bold" >100</text>
<line x1="523.50" y1="352.10" x2="673.90" y2="352.10" stroke="#1a1a1a" stroke-width="1.5"/>
<line x1="525.60" y1="352.10" x2="525.60" y2="355.10" stroke="#1a1a1a" stroke-width="1.5"/>
<text x="525.60" y="365.30" font-size="9.2" text-anchor="middle" font-weight="bold" >0</text>
<line x1="550.22" y1="352.10" x2="550.22" y2="355.10" stroke="#1a1a1a" stroke-width="1.5"/>
<text x="550.22" y="365.30" font-size="9.2" text-anchor="middle" font-weight="bold" >15</text>
<line x1="574.83" y1="352.10" x2="574.83" y2="355.10" stroke="#1a1a1a" stroke-width="1.5"/>
<text x="574.83" y="365.30" font-size="9.2" text-anchor="middle" font-weight="bold" >30</text>
<line x1="599.45" y1="352.10" x2="599.45" y2="355.10" stroke="#1a1a1a" stroke-width="1.5"/>
<text x="599.45" y="365.30" font-size="9.2" text-anchor="middle" font-weight="bold" >45</text>
<line x1="624.07" y1="352.10" x2="624.07" y2="355.10" stroke="#1a1a1a" stroke-width="1.5"/>
<text x="624.07" y="365.30" font-size="9.2" text-anchor="middle" font-weight="bold" >60</text>
<line x1="648.68" y1="352.10" x2="648.68" y2="355.10" stroke="#1a1a1a" stroke-width="1.5"/>
<text x="648.68" y="365.30" font-size="9.2" text-anchor="middle" font-weight="bold" >75</text>
<line x1="673.30" y1="352.10" x2="673.30" y2="355.10" stroke="#1a1a1a" stroke-width="1.5"/>
<text x="673.30" y="365.30" font-size="9.2" text-anchor="middle" font-weight="bold" >90</text>
<polyline points="525.80,249.50 550.60,295.40 574.90,315.90 599.50,324.30 624.00,324.80 673.40,315.90" fill="none" stroke="#1a1a1a" stroke-width="1.2"/>
<line x1="525.80" y1="248.70" x2="525.80" y2="250.30" stroke="#1a1a1a" stroke-width="1.2"/>
<line x1="524.00" y1="248.70" x2="527.60" y2="248.70" stroke="#1a1a1a" stroke-width="1.2"/>
<line x1="524.00" y1="250.30" x2="527.60" y2="250.30" stroke="#1a1a1a" stroke-width="1.2"/>
<line x1="550.60" y1="288.40" x2="550.60" y2="302.40" stroke="#1a1a1a" stroke-width="1.2"/>
<line x1="548.80" y1="288.40" x2="552.40" y2="288.40" stroke="#1a1a1a" stroke-width="1.2"/>
<line x1="548.80" y1="302.40" x2="552.40" y2="302.40" stroke="#1a1a1a" stroke-width="1.2"/>
<line x1="574.90" y1="312.50" x2="574.90" y2="319.30" stroke="#1a1a1a" stroke-width="1.2"/>
<line x1="573.10" y1="312.50" x2="576.70" y2="312.50" stroke="#1a1a1a" stroke-width="1.2"/>
<line x1="573.10" y1="319.30" x2="576.70" y2="319.30" stroke="#1a1a1a" stroke-width="1.2"/>
<line x1="599.50" y1="319.70" x2="599.50" y2="328.90" stroke="#1a1a1a" stroke-width="1.2"/>
<line x1="597.70" y1="319.70" x2="601.30" y2="319.70" stroke="#1a1a1a" stroke-width="1.2"/>
<line x1="597.70" y1="328.90" x2="601.30" y2="328.90" stroke="#1a1a1a" stroke-width="1.2"/>
<line x1="624.00" y1="320.00" x2="624.00" y2="329.60" stroke="#1a1a1a" stroke-width="1.2"/>
<line x1="622.20" y1="320.00" x2="625.80" y2="320.00" stroke="#1a1a1a" stroke-width="1.2"/>
<line x1="622.20" y1="329.60" x2="625.80" y2="329.60" stroke="#1a1a1a" stroke-width="1.2"/>
<line x1="673.40" y1="310.50" x2="673.40" y2="321.30" stroke="#1a1a1a" stroke-width="1.2"/>
<line x1="671.60" y1="310.50" x2="675.20" y2="310.50" stroke="#1a1a1a" stroke-width="1.2"/>
<line x1="671.60" y1="321.30" x2="675.20" y2="321.30" stroke="#1a1a1a" stroke-width="1.2"/>
<rect x="523.80" y="247.50" width="4.0" height="4.0" fill="#fff" stroke="#111" stroke-width="1.2"/>
<rect x="548.60" y="293.40" width="4.0" height="4.0" fill="#fff" stroke="#111" stroke-width="1.2"/>
<rect x="572.90" y="313.90" width="4.0" height="4.0" fill="#fff" stroke="#111" stroke-width="1.2"/>
<rect x="597.50" y="322.30" width="4.0" height="4.0" fill="#fff" stroke="#111" stroke-width="1.2"/>
<rect x="622.00" y="322.80" width="4.0" height="4.0" fill="#fff" stroke="#111" stroke-width="1.2"/>
<rect x="671.40" y="313.90" width="4.0" height="4.0" fill="#fff" stroke="#111" stroke-width="1.2"/>
<polyline points="525.80,249.50 550.60,278.50 574.90,307.40 599.50,320.20 624.00,316.60 673.40,299.00" fill="none" stroke="#1a1a1a" stroke-width="1.2"/>
<line x1="525.80" y1="248.70" x2="525.80" y2="250.30" stroke="#1a1a1a" stroke-width="1.2"/>
<line x1="524.00" y1="248.70" x2="527.60" y2="248.70" stroke="#1a1a1a" stroke-width="1.2"/>
<line x1="524.00" y1="250.30" x2="527.60" y2="250.30" stroke="#1a1a1a" stroke-width="1.2"/>
<line x1="550.60" y1="272.20" x2="550.60" y2="284.80" stroke="#1a1a1a" stroke-width="1.2"/>
<line x1="548.80" y1="272.20" x2="552.40" y2="272.20" stroke="#1a1a1a" stroke-width="1.2"/>
<line x1="548.80" y1="284.80" x2="552.40" y2="284.80" stroke="#1a1a1a" stroke-width="1.2"/>
<line x1="574.90" y1="305.00" x2="574.90" y2="309.80" stroke="#1a1a1a" stroke-width="1.2"/>
<line x1="573.10" y1="305.00" x2="576.70" y2="305.00" stroke="#1a1a1a" stroke-width="1.2"/>
<line x1="573.10" y1="309.80" x2="576.70" y2="309.80" stroke="#1a1a1a" stroke-width="1.2"/>
<line x1="599.50" y1="317.20" x2="599.50" y2="323.20" stroke="#1a1a1a" stroke-width="1.2"/>
<line x1="597.70" y1="317.20" x2="601.30" y2="317.20" stroke="#1a1a1a" stroke-width="1.2"/>
<line x1="597.70" y1="323.20" x2="601.30" y2="323.20" stroke="#1a1a1a" stroke-width="1.2"/>
<line x1="624.00" y1="311.80" x2="624.00" y2="321.40" stroke="#1a1a1a" stroke-width="1.2"/>
<line x1="622.20" y1="311.80" x2="625.80" y2="311.80" stroke="#1a1a1a" stroke-width="1.2"/>
<line x1="622.20" y1="321.40" x2="625.80" y2="321.40" stroke="#1a1a1a" stroke-width="1.2"/>
<line x1="673.40" y1="294.20" x2="673.40" y2="303.80" stroke="#1a1a1a" stroke-width="1.2"/>
<line x1="671.60" y1="294.20" x2="675.20" y2="294.20" stroke="#1a1a1a" stroke-width="1.2"/>
<line x1="671.60" y1="303.80" x2="675.20" y2="303.80" stroke="#1a1a1a" stroke-width="1.2"/>
<rect x="523.30" y="247.00" width="5.0" height="5.0" fill="#111"/>
<rect x="548.10" y="276.00" width="5.0" height="5.0" fill="#111"/>
<rect x="572.40" y="304.90" width="5.0" height="5.0" fill="#111"/>
<rect x="597.00" y="317.70" width="5.0" height="5.0" fill="#111"/>
<rect x="621.50" y="314.10" width="5.0" height="5.0" fill="#111"/>
<rect x="670.90" y="296.50" width="5.0" height="5.0" fill="#111"/>
<text x="673.40" y="288.00" font-size="12" text-anchor="middle" font-weight="bold" >*</text>
<text x="591.60" y="257.30" font-size="11.2" text-anchor="start" font-weight="bold" >ITT</text>
<text x="599.50" y="380.00" font-size="9.0" text-anchor="middle" font-weight="bold" >Time (min)</text>
<text x="0" y="0" font-size="9.1" text-anchor="middle" font-weight="bold" transform="translate(495.29,301.00) rotate(-90) scale(1,0.82)" >% Basal glucose</text>
<line x1="580.30" y1="212.70" x2="594.30" y2="212.70" stroke="#333" stroke-width="1.2"/>
<rect x="584.5" y="209.6" width="4.0" height="5.8" fill="#fff" stroke="#222" stroke-width="1.1"/>
<text x="598.80" y="215.60" font-size="10.5" text-anchor="start" font-weight="bold" >WT donor</text>
<line x1="581.40" y1="231.20" x2="595.60" y2="231.20" stroke="#333" stroke-width="1.2"/>
<rect x="585.1" y="226.5" width="5.8" height="7.9" fill="#111"/>
<text x="599.90" y="234.30" font-size="10.5" text-anchor="start" font-weight="bold" >CX3CR1</text>
<text x="644.90" y="230.90" font-size="7.2" text-anchor="start" font-weight="bold" style="stroke-width:0.15px">-/-</text>
<text x="654.80" y="234.30" font-size="10.5" text-anchor="start" font-weight="bold" >donor</text>
<text x="190.20" y="402.30" font-size="14" text-anchor="start" font-weight="bold" >i</text>
<path d="M225.3,403.30 H227.4 V521.40 H410.0 V524.00" fill="none" stroke="#3c3c3c" stroke-width="1.5" stroke-linejoin="round"/>
<line x1="225.30" y1="491.88" x2="227.40" y2="491.88" stroke="#3c3c3c" stroke-width="1.5"/>
<text x="220.10" y="495.18" font-size="9.2" text-anchor="end" font-weight="bold" >20</text>
<line x1="225.30" y1="462.35" x2="227.40" y2="462.35" stroke="#3c3c3c" stroke-width="1.5"/>
<text x="220.10" y="465.65" font-size="9.2" text-anchor="end" font-weight="bold" >40</text>
<line x1="225.30" y1="432.82" x2="227.40" y2="432.82" stroke="#3c3c3c" stroke-width="1.5"/>
<text x="220.10" y="436.12" font-size="9.2" text-anchor="end" font-weight="bold" >60</text>
<text x="220.10" y="406.60" font-size="9.2" text-anchor="end" font-weight="bold" >80</text>
<text x="224.00" y="524.90" font-size="9.8" text-anchor="end" font-weight="bold" >0</text>
<line x1="231.60" y1="521.40" x2="231.60" y2="524.00" stroke="#3c3c3c" stroke-width="1.5"/>
<line x1="249.40" y1="521.40" x2="249.40" y2="524.00" stroke="#3c3c3c" stroke-width="1.5"/>
<line x1="267.20" y1="521.40" x2="267.20" y2="524.00" stroke="#3c3c3c" stroke-width="1.5"/>
<line x1="285.00" y1="521.40" x2="285.00" y2="524.00" stroke="#3c3c3c" stroke-width="1.5"/>
<line x1="302.80" y1="521.40" x2="302.80" y2="524.00" stroke="#3c3c3c" stroke-width="1.5"/>
<line x1="320.60" y1="521.40" x2="320.60" y2="524.00" stroke="#3c3c3c" stroke-width="1.5"/>
<line x1="338.40" y1="521.40" x2="338.40" y2="524.00" stroke="#3c3c3c" stroke-width="1.5"/>
<line x1="356.20" y1="521.40" x2="356.20" y2="524.00" stroke="#3c3c3c" stroke-width="1.5"/>
<line x1="374.00" y1="521.40" x2="374.00" y2="524.00" stroke="#3c3c3c" stroke-width="1.5"/>
<line x1="391.80" y1="521.40" x2="391.80" y2="524.00" stroke="#3c3c3c" stroke-width="1.5"/>
<text x="231.60" y="535.10" font-size="9.2" text-anchor="middle" font-weight="bold" >0</text>
<text x="249.40" y="535.10" font-size="9.2" text-anchor="middle" font-weight="bold" >1</text>
<text x="267.20" y="535.10" font-size="9.2" text-anchor="middle" font-weight="bold" >2</text>
<text x="285.00" y="535.10" font-size="9.2" text-anchor="middle" font-weight="bold" >3</text>
<text x="302.80" y="535.10" font-size="9.2" text-anchor="middle" font-weight="bold" >4</text>
<text x="320.60" y="535.10" font-size="9.2" text-anchor="middle" font-weight="bold" >5</text>
<text x="338.40" y="535.10" font-size="9.2" text-anchor="middle" font-weight="bold" >6</text>
<text x="356.20" y="535.10" font-size="9.2" text-anchor="middle" font-weight="bold" >7</text>
<text x="374.00" y="535.10" font-size="9.2" text-anchor="middle" font-weight="bold" >8</text>
<text x="391.80" y="535.10" font-size="9.2" text-anchor="middle" font-weight="bold" >9</text>
<text x="409.60" y="535.10" font-size="9.2" text-anchor="middle" font-weight="bold" >10</text>
<circle cx="235.9" cy="487" r="2.65" fill="#111"/>
<circle cx="250.2" cy="474.9" r="2.65" fill="#111"/>
<circle cx="260.8" cy="456.2" r="2.65" fill="#111"/>
<circle cx="260.8" cy="479.9" r="2.65" fill="#111"/>
<circle cx="267.9" cy="478.2" r="2.65" fill="#111"/>
<circle cx="271.6" cy="479.9" r="2.65" fill="#111"/>
<circle cx="276.7" cy="468.6" r="2.65" fill="#111"/>
<circle cx="284.2" cy="478.2" r="2.65" fill="#111"/>
<circle cx="286" cy="458" r="2.65" fill="#111"/>
<circle cx="288" cy="461.8" r="2.65" fill="#111"/>
<circle cx="293.6" cy="434.6" r="2.65" fill="#111"/>
<circle cx="293.6" cy="440.4" r="2.65" fill="#111"/>
<circle cx="294.8" cy="478.2" r="2.65" fill="#111"/>
<circle cx="296.8" cy="476.9" r="2.65" fill="#111"/>
<circle cx="298.6" cy="473.9" r="2.65" fill="#111"/>
<circle cx="302" cy="474.8" r="2.65" fill="#111"/>
<circle cx="302.2" cy="455.9" r="2.65" fill="#111"/>
<circle cx="314.3" cy="463" r="2.65" fill="#111"/>
<circle cx="314.3" cy="478.8" r="2.65" fill="#111"/>
<circle cx="314.3" cy="485.6" r="2.65" fill="#111"/>
<circle cx="320.1" cy="471" r="2.65" fill="#111"/>
<circle cx="325.2" cy="436.5" r="2.65" fill="#111"/>
<circle cx="328.9" cy="438.6" r="2.65" fill="#111"/>
<circle cx="332" cy="462.2" r="2.65" fill="#111"/>
<circle cx="332.2" cy="464.2" r="2.65" fill="#111"/>
<circle cx="339.5" cy="478.6" r="2.65" fill="#111"/>
<circle cx="343.3" cy="440.8" r="2.65" fill="#111"/>
<circle cx="348.6" cy="442.1" r="2.65" fill="#111"/>
<circle cx="384.3" cy="405.6" r="2.65" fill="#111"/>
<circle cx="384.3" cy="432.8" r="2.65" fill="#111"/>
<circle cx="401.9" cy="427" r="2.65" fill="#111"/>
<line x1="235.30" y1="484.00" x2="401.90" y2="427.80" stroke="#1a1a1a" stroke-width="1.25"/>
<text x="363.00" y="480.20" font-size="11.4" text-anchor="start" font-weight="bold" >r<tspan font-size="7.5" dy="-4.5">2</tspan><tspan dy="4.5">=0.41</tspan></text>
<text x="363.00" y="493.30" font-size="11.5" text-anchor="start" font-weight="bold" >p&lt;0.0001</text>
<text x="261.80" y="551.70" font-size="9.2" text-anchor="start" font-weight="bold" >Gr1<tspan font-size="6.6" dy="-3.6" dx="0.6">low</tspan><tspan dy="3.6" x="291.0">monocytes (%CD45)</tspan></text>
<text x="0" y="0" font-size="11.7" text-anchor="middle" font-weight="bold" transform="translate(200.21,462.60) rotate(-90)" >Bodyweight (g)</text>
</svg>
</body></html>
